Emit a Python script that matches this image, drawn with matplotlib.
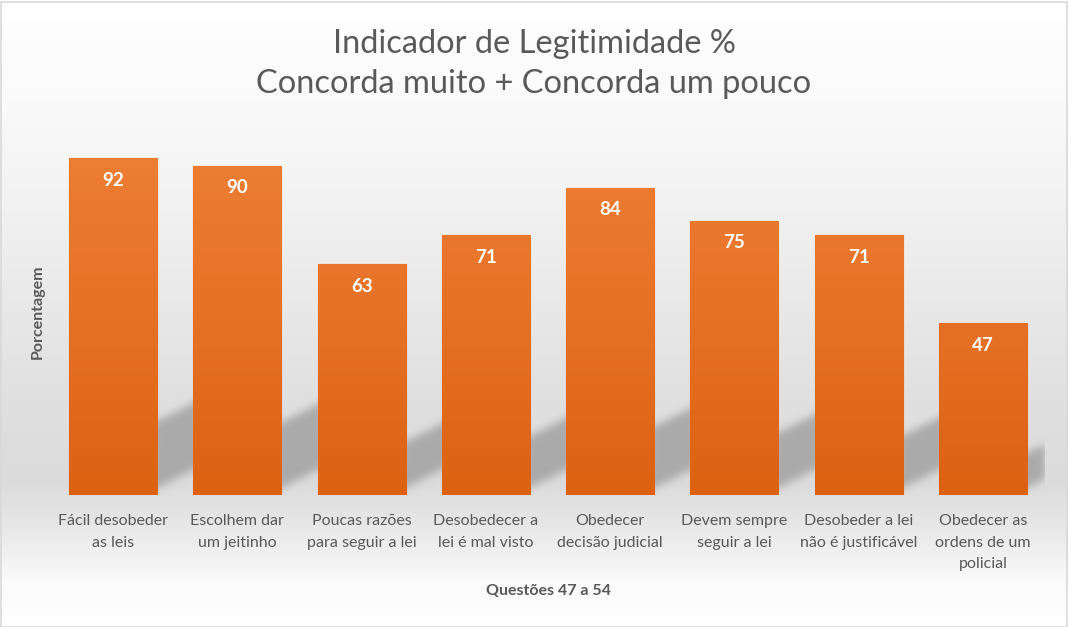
import numpy as np
import matplotlib
matplotlib.use("Agg")
import matplotlib.pyplot as plt
from matplotlib.colors import LinearSegmentedColormap

categories = [
    "Fácil desobeder\nas leis",
    "Escolhem dar\num jeitinho",
    "Poucas razões\npara seguir a lei",
    "Desobedecer a\nlei é mal visto",
    "Obedecer\ndecisão judicial",
    "Devem sempre\nseguir a lei",
    "Desobeder a lei\nnão é justificável",
    "Obedecer as\nordens de um\npolicial",
]
values = [92, 90, 63, 71, 84, 75, 71, 47]
title_text = "Indicador de Legitimidade %\nConcorda muito + Concorda um pouco"
xlabel_text = "Questões 47 a 54"
ylabel_text = "Porcentagem"

FONT = "Lato"
plt.rcParams["font.family"] = [FONT, "DejaVu Sans"]

W, H = 1068, 627
fig = plt.figure(figsize=(W / 100, H / 100), dpi=100)

# figure background gradient
bg_ax = fig.add_axes([0, 0, 1, 1], zorder=-10)
ys = np.array([0, 100, 200, 300, 400, 480, 500, 540, 580, 627])
gs = np.array([255, 250, 242, 233, 224, 219, 224, 236, 250, 255]) / 255.0
yy = np.arange(H)
g = np.interp(yy, ys, gs)
img = np.repeat(g[:, None], 4, axis=1)
bg_ax.imshow(np.dstack([img, img, img]), aspect="auto", extent=[0, 1, 0, 1])
bg_ax.set_xlim(0, 1)
bg_ax.set_ylim(0, 1)
bg_ax.axis("off")
border = plt.Rectangle((0.5 / W, 0.5 / H), 1 - 2 / W, 1 - 2 / H, transform=fig.transFigure,
                       fill=False, edgecolor="#d9d9d9", linewidth=1.2, zorder=100)
fig.patches.append(border)

L, R, B, T = 51, 1045, 495, 129
ax = fig.add_axes([L / W, 1 - B / H, (R - L) / W, (B - T) / H])
ax.patch.set_alpha(0)
n = len(values)
x = np.arange(n)
bw = 0.71

# soft shadows behind bars
nx, ny = 994, 366
gx = np.linspace(-0.5, n - 0.5, nx)
gy = np.linspace(0, 100, ny)
GX, GY = np.meshgrid(gx, gy)
mask = np.zeros_like(GX)
slope = 17.0
for xi, v in zip(x, values):
    xr = xi + bw / 2 - 0.05
    dx = GX - xr
    hs = 0.20 * v
    low = 1.0 + slope * np.clip(dx, 0, None)
    inside = (dx >= 0) & (dx <= 0.55) & (GY >= low) & (GY <= low + hs)
    mask = np.maximum(mask, inside.astype(float))
sig = 4.0
k = np.exp(-0.5 * (np.arange(-12, 13) / sig) ** 2)
k /= k.sum()
mask = np.apply_along_axis(lambda r: np.convolve(r, k, mode="same"), 1, mask)
mask = np.apply_along_axis(lambda c: np.convolve(c, k, mode="same"), 0, mask)
sh = np.zeros((ny, nx, 4))
sh[..., :3] = 0.55
sh[..., 3] = mask * 0.62
ax.imshow(sh, origin="lower", extent=[-0.5, n - 0.5, 0, 100], aspect="auto", zorder=1)

# bars with vertical gradient
cmap = LinearSegmentedColormap.from_list("org", ["#dc6211", "#e67127", "#ee8036"])
grad = np.linspace(0, 1, 256)[:, None]
bars = ax.bar(x, values, width=bw, color="#e5722a", edgecolor="#f2a875", linewidth=0.9, zorder=2)
for b in bars:
    im = ax.imshow(grad, cmap=cmap, origin="lower", extent=[-0.5, n - 0.5, 0, 100],
                   aspect="auto", zorder=2.5)
    im.set_clip_path(b)
ax.set_xlim(-0.5, n - 0.5)
ax.set_ylim(0, 100)

for xi, v in zip(x, values):
    ax.annotate(str(v), (xi, v), xytext=(0, -16), textcoords="offset points",
                ha="center", va="center", color="white", fontsize=13.5, fontweight="bold", zorder=5)

for s in ax.spines.values():
    s.set_visible(False)
ax.set_yticks([])
ax.set_xticks(x)
ax.set_xticklabels(categories, fontsize=11.5, color="#595959", linespacing=1.68)
ax.tick_params(axis="x", length=0, pad=14)

fig.text(38 / W, 1 - 312 / H, ylabel_text, rotation=90, ha="center", va="center",
         fontsize=11.5, fontweight="bold", color="#595959")
fig.text(548 / W, 1 - 591 / H, xlabel_text, ha="center", va="center",
         fontsize=11.5, fontweight="bold", color="#595959")
fig.text(534 / W, 1 - 64 / H, title_text, ha="center", va="center",
         fontsize=23.5, color="#595959", linespacing=1.42, fontweight="normal")

fig.savefig("out.png", dpi=100)
